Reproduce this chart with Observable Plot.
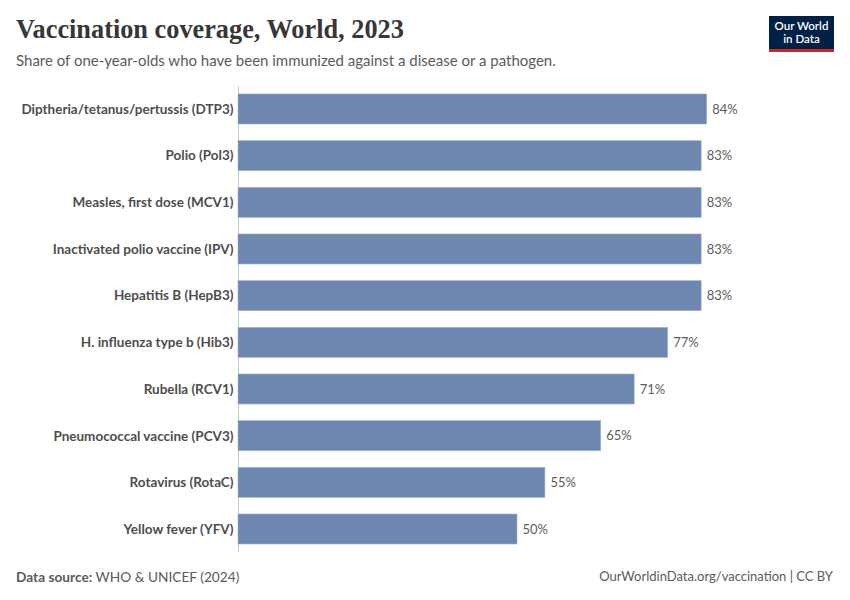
<!DOCTYPE html>
<html>
<head>
<meta charset="utf-8">
<script src="https://cdn.jsdelivr.net/npm/d3@7"></script>
<script src="https://cdn.jsdelivr.net/npm/@observablehq/plot@0.6"></script>
<style>
  html, body { margin: 0; padding: 0; background: #fff; }
  #wrap { position: relative; width: 850px; height: 600px; font-family: Lato, "Noto Sans", sans-serif; overflow: hidden; }
  #title { position: absolute; left: 16px; top: 15px; font-family: "Liberation Serif", "DejaVu Serif", serif; font-size: 26.3px; font-weight: 700; color: #373737; white-space: nowrap; }
  #subtitle { position: absolute; left: 16px; top: 51px; font-size: 15px; color: #5b5b5b; white-space: nowrap; }
  #logo { position: absolute; left: 769px; top: 16px; width: 65px; height: 33px; background: #002147; border-bottom: 3px solid #ce261e; }
  #logo span { position: absolute; left: 0; width: 65px; text-align: center; color: #fff; font-size: 11.5px; font-weight: 600; line-height: 12px; white-space: nowrap; }
  #chart { position: absolute; left: 0; top: 70px; }
  #chart svg text { font-family: Lato, "Noto Sans", sans-serif; }
  #chart g[aria-label="y-axis tick label"] text { font-weight: 700; fill: #4d4d4d; }
  #source { position: absolute; left: 16px; top: 568px; font-size: 13.7px; color: #5b5b5b; white-space: nowrap; }
  #source b { font-weight: 700; }
  #url { position: absolute; right: 17px; top: 568px; font-size: 13px; color: #5b5b5b; white-space: nowrap; }
</style>
</head>
<body>
<div id="wrap">
  <div id="title">Vaccination coverage, World, 2023</div>
  <div id="subtitle">Share of one-year-olds who have been immunized against a disease or a pathogen.</div>
  <div id="logo"><span style="top:4px">Our World</span><span style="top:17px">in Data</span></div>
  <div id="chart"></div>
  <div id="source"><b>Data source:</b> WHO &amp; UNICEF (2024)</div>
  <div id="url">OurWorldinData.org/vaccination | CC BY</div>
</div>
<script>
const vaccines = [
  "Diptheria/tetanus/pertussis (DTP3)",
  "Polio (Pol3)",
  "Measles, first dose (MCV1)",
  "Inactivated polio vaccine (IPV)",
  "Hepatitis B (HepB3)",
  "H. influenza type b (Hib3)",
  "Rubella (RCV1)",
  "Pneumococcal vaccine (PCV3)",
  "Rotavirus (RotaC)",
  "Yellow fever (YFV)"
];
const coverage = [84, 83, 83, 83, 83, 77, 71, 65, 55, 50];

const data = vaccines.map((v, i) => ({vaccine: v, value: coverage[i]}));

const chart = Plot.plot({
  width: 850,
  height: 490,
  marginTop: 16,
  marginBottom: 8,
  marginLeft: 238,
  marginRight: 54,
  style: {fontSize: "13px", background: "transparent"},
  x: {domain: [0, 100], axis: null},
  y: {domain: vaccines, paddingInner: 0.357, paddingOuter: 0.171, round: false, label: null},
  marks: [
    Plot.ruleX([0], {stroke: "#c8c8c8", strokeWidth: 1}),
    Plot.barX(data, {x: "value", y: "vaccine", fill: "#6d87b0", stroke: "#9fb1cd", strokeWidth: 0.6}),
    Plot.text(data, {x: "value", y: "vaccine", text: d => d.value + "%", textAnchor: "start", dx: 5, fill: "#5b5b5b", fontSize: 13}),
    Plot.axisY({tickSize: 0, tickPadding: 5, fontSize: 13.5, label: null})
  ]
});
document.getElementById("chart").appendChild(chart);
</script>
</body>
</html>
